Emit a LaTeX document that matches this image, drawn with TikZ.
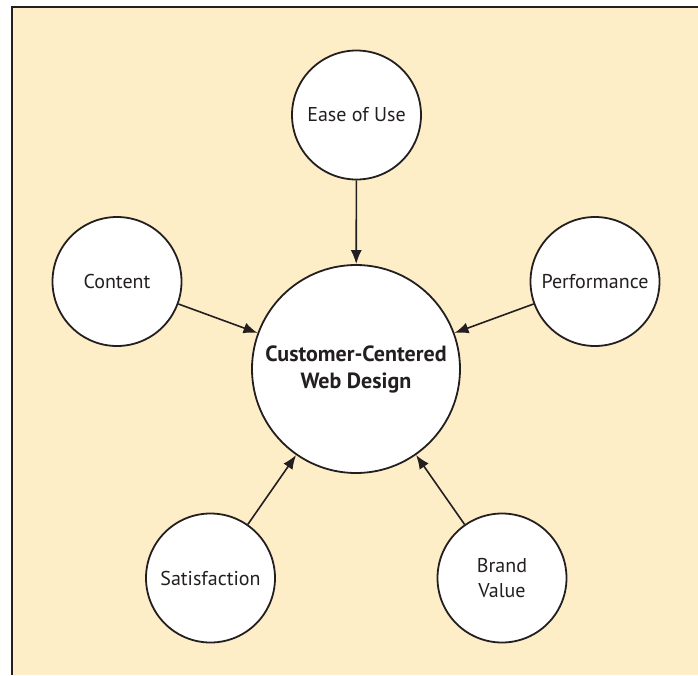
\documentclass[tikz,border=0pt]{standalone}
\usepackage{fontspec}
\setmainfont{PT Sans}
\usetikzlibrary{arrows.meta}
\definecolor{paper}{RGB}{253,238,200}
\definecolor{ink}{RGB}{35,31,32}
\begin{document}
\begin{tikzpicture}[x=1pt,y=-1pt,>={Latex[length=14pt,width=11pt]},
  bubble/.style={circle,draw=ink,fill=white,line width=1.8pt,inner sep=0pt,
    minimum size=129pt,align=center,text=ink,font=\fontsize{20}{25}\selectfont},
  hub/.style={bubble,minimum size=208pt,font=\fontsize{22}{27}\selectfont\bfseries},
  feed/.style={->,draw=ink,line width=1.6pt}]
\useasboundingbox (0,0) rectangle (698,675);
\fill[paper] (12,7) rectangle (698,675);
\draw[ink,line width=2pt] (12,675)--(12,7)--(698,7);

\node[hub] (web) at (356,369) {Customer-Centered\\Web Design};
\node[bubble] (ease) at (356.5,115) {Ease of Use};
\node[bubble] (content) at (117,281.5) {Content};
\node[bubble] (perf) at (595,281.5) {Performance};
\node[bubble] (satis) at (210.5,578) {Satisfaction};
\node[bubble] (brand) at (502,578) {Brand\\Value};

\draw[feed] (ease)--(web);
\draw[feed] (content)--(web);
\draw[feed] (perf)--(web);
\draw[feed] (satis)--(web);
\draw[feed] (brand)--(web);

\end{tikzpicture}
\end{document}
